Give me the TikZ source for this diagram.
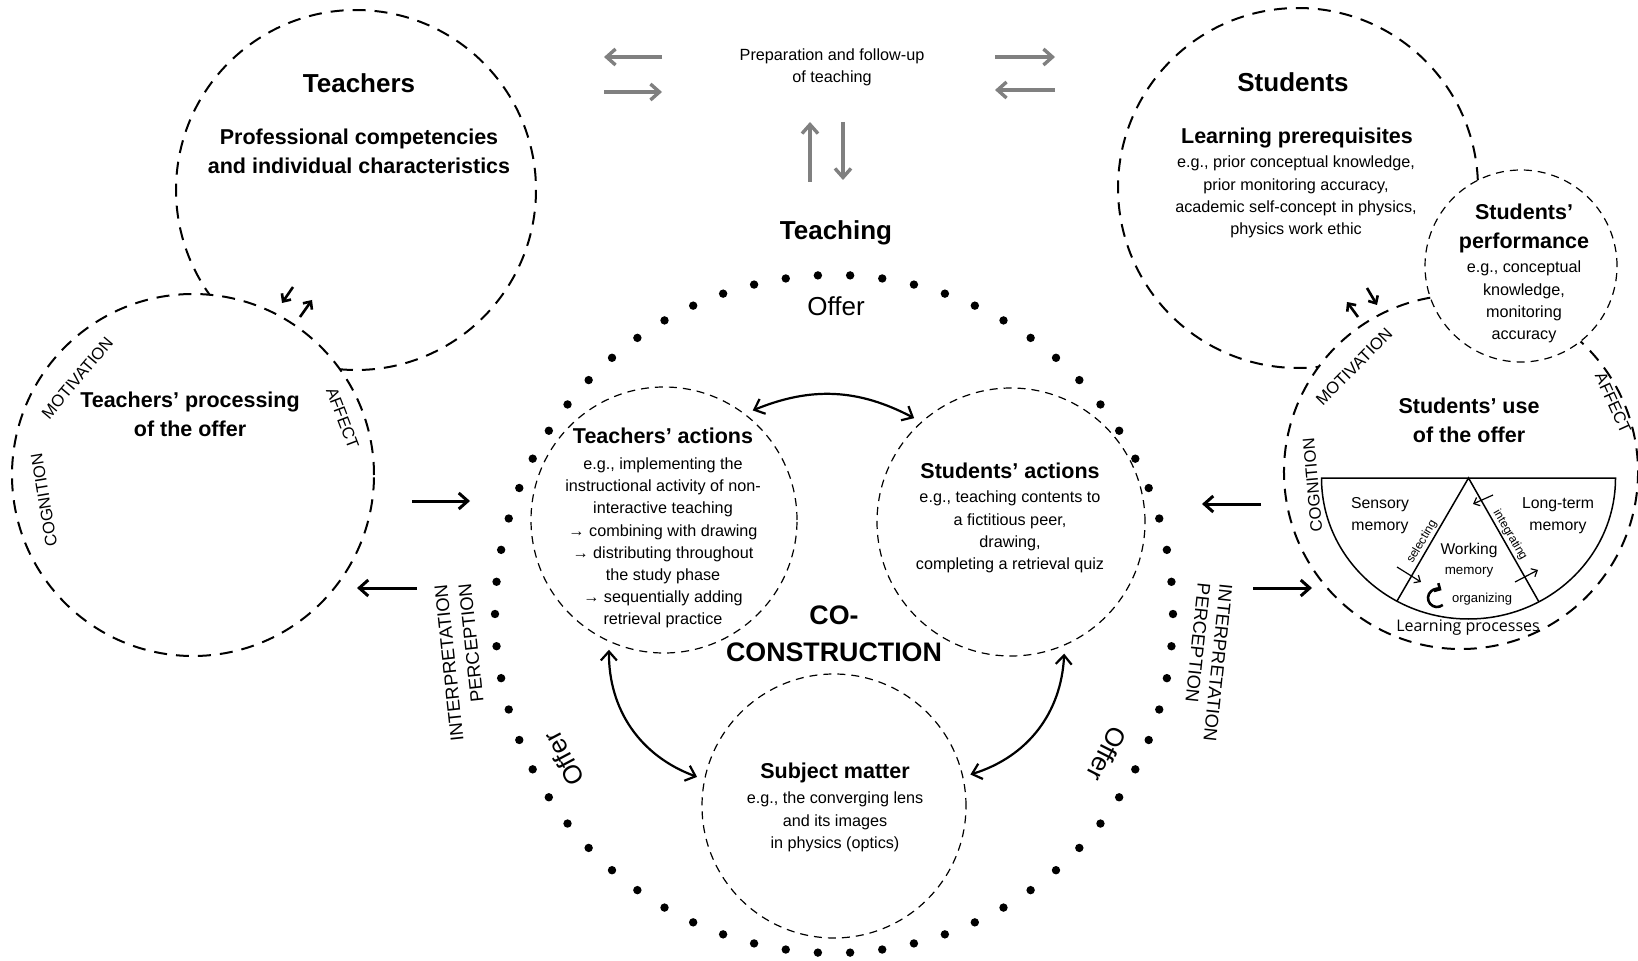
\documentclass[tikz,border=0pt]{standalone}
\usepackage{fontspec}
\setmainfont{Liberation Sans}
\newfontfamily\procfont{Open Sans}
\usetikzlibrary{arrows.meta}
\newcommand{\sz}[2]{\fontsize{#1}{#2}\selectfont}
\begin{document}
\begin{tikzpicture}[x=0.5pt, y=0.5pt,
  bigdash/.style={line width=1pt, dash pattern=on 6.5pt off 4.5pt},
  finedash/.style={line width=0.6pt, dash pattern=on 4pt off 3pt},
  actcircle/.style={circle, draw, finedash, minimum size=133pt, inner sep=0pt, outer sep=4pt},
  headline/.style={font=\bfseries\sz{13}{16}, inner sep=0pt},
  subhead/.style={font=\bfseries\sz{10.75}{14.5}, align=center, inner sep=0pt},
  bodytext/.style={font=\sz{8.1}{11.1}, align=center, inner sep=0pt},
  circlelabel/.style={font=\sz{8.3}{10}, inner sep=0pt},
  sidelabel/.style={font=\sz{9.2}{11}, inner sep=0pt},
  offerlabel/.style={font=\sz{13}{15}, inner sep=0pt},
  memtext/.style={font=\sz{7.9}{11}, align=center, inner sep=0pt},
  flowarrow/.style={line width=1.5pt, -{Straight Barb[length=4.5pt, width=8pt]}},
  grayarrow/.style={line width=1.7pt, draw=black!50, -{Straight Barb[length=4.5pt, width=8pt]}},
  linkarrow/.style={line width=1.1pt, {Straight Barb[length=4.5pt, width=8pt]}-{Straight Barb[length=4.5pt, width=8pt]}},
  tinyarrow/.style={line width=1.3pt, -{Straight Barb[length=3pt, width=5.5pt]}},
  memarrow/.style={line width=0.6pt, -{Straight Barb[length=2.5pt, width=4.5pt]}},
]
\fill[white] (0,0) rectangle (1638,960);
\useasboundingbox (0,0) rectangle (1638,960);

% centres of the large circles
\coordinate (tc) at (356,770);
\coordinate (pc) at (193,485);
\coordinate (sc) at (1298,772);
\coordinate (pf) at (1521,694);
\coordinate (uc) at (1461,488);
\coordinate (dc) at (834,346);

% Teachers and their processing of the offer
\draw[bigdash] ([shift={(264.9:90pt)}]tc) arc[start angle=264.9, end angle=575.6, radius=90pt];
\draw[bigdash] (pc) circle[radius=90.5pt];

% Students, their performance and their use of the offer
\draw[bigdash] ([shift={(2.5:90pt)}]sc) arc[start angle=2.5, end angle=276.6, radius=90pt];
\draw[bigdash] ([shift={(100:88.5pt)}]uc) arc[start angle=100, end angle=407.5, radius=88.5pt];
\draw[finedash] (pf) circle[radius=48pt];

% dotted ring of the teaching offer
\foreach \k in {0,...,65}
  \fill ([shift={({92.727+\k*5.4545}:169.5pt)}]dc) circle[radius=2.1pt];

% inner circles of the co-construction
\node[actcircle] (ta) at (664,440) {};
\node[actcircle, minimum size=134pt] (sa) at (1011,438) {};
\node[actcircle, minimum size=132pt] (sm) at (834,154) {};

\draw[linkarrow] (ta.51) to[bend left=25] (sa.133);
\draw[linkarrow] (ta.247) to[bend right=35] (sm.168);
\draw[linkarrow] (sa.292) to[bend left=35] (sm.13);

% titles and texts
\node[headline] (teachers) at (359,877) {Teachers};
\node[subhead] (profcomp) at (359,808.5) {Professional competencies\\and individual characteristics};
\node[subhead] (tproc) at (190,546) {Teachers’ processing\\of the offer};

\node[headline] (students) at (1293,878) {Students};
\node[subhead] (lpre) at (1297,822) {Learning prerequisites};
\node[bodytext] (lpretext) at (1296,763) {e.g., prior conceptual knowledge,\\prior monitoring accuracy,\\academic self-concept in physics,\\physics work ethic};
\node[subhead] (sperf) at (1524,731.5) {Students’\\performance};
\node[bodytext] (sperftext) at (1524,658) {e.g., conceptual\\knowledge,\\monitoring\\accuracy};
\node[subhead] (suse) at (1469,539.5) {Students’ use\\of the offer};

\node[bodytext, font=\sz{8.1}{11}] (prep) at (832,893) {Preparation and follow-up\\of teaching};
\node[headline] (teaching) at (836,727) {Teaching};
\node[offerlabel] (offertop) at (836,654) {Offer};
\node[offerlabel, rotate=118] (offerleft) at (564,201) {Offer};
\node[offerlabel, rotate=-117] (offerright) at (1107,206) {Offer};

\node[subhead] (tacttitle) at (663,524) {Teachers’ actions};
\node[bodytext] (tacttext) at (663,417) {e.g., implementing the\\instructional activity of non-\\interactive teaching\\→ combining with drawing\\→ distributing throughout\\the study phase\\→ sequentially adding\\retrieval practice};
\node[subhead] (sacttitle) at (1010,489) {Students’ actions};
\node[bodytext] (sacttext) at (1010,428) {e.g., teaching contents to\\a fictitious peer,\\drawing,\\completing a retrieval quiz};
\node[subhead, font=\bfseries\sz{13.4}{18.5}] (cocon) at (834,326.5) {CO-\\CONSTRUCTION};
\node[subhead] (smtitle) at (835,187) {Subject matter};
\node[bodytext] (smtext) at (835,138) {e.g., the converging lens\\and its images\\in physics (optics)};

% labels around the processing circles
\node[circlelabel, rotate=50] (tmot) at ([shift={(140:75.5pt)}]pc) {MOTIVATION};
\node[circlelabel, rotate=99.5] (tcog) at ([shift={(189.5:75.5pt)}]pc) {COGNITION};
\node[circlelabel, rotate=-69.2] (taff) at ([shift={(20.8:80pt)}]pc) {AFFECT};
\node[circlelabel, rotate=45.5] (smot) at ([shift={(135.5:75pt)}]uc) {MOTIVATION};
\node[circlelabel, rotate=95] (scog) at ([shift={(185:74.5pt)}]uc) {COGNITION};
\node[circlelabel, rotate=-65.6] (saff) at ([shift={(24.4:83.5pt)}]uc) {AFFECT};

\node[sidelabel, rotate=96] (linterp) at (449,297) {INTERPRETATION};
\node[sidelabel, rotate=96] (lperc) at (471,317) {PERCEPTION};
\node[sidelabel, rotate=-96] (rinterp) at (1218,297) {INTERPRETATION};
\node[sidelabel, rotate=-96] (rperc) at (1198,317) {PERCEPTION};

% arrows between the circles
\coordinate (a1s) at (412,459); \coordinate (a1e) at (470,459);
\coordinate (a2s) at (417,372); \coordinate (a2e) at (357,372);
\coordinate (a3s) at (1261,456); \coordinate (a3e) at (1202,456);
\coordinate (a4s) at (1253,372); \coordinate (a4e) at (1312,372);
\draw[flowarrow] (a1s) -- (a1e);
\draw[flowarrow] (a2s) -- (a2e);
\draw[flowarrow] (a3s) -- (a3e);
\draw[flowarrow] (a4s) -- (a4e);

% preparation and follow-up arrows
\coordinate (g1s) at (662,903); \coordinate (g1e) at (604,903);
\coordinate (g2s) at (604,868); \coordinate (g2e) at (662,868);
\coordinate (g3s) at (995,903); \coordinate (g3e) at (1055,903);
\coordinate (g4s) at (1055,870); \coordinate (g4e) at (995,870);
\coordinate (g5s) at (810,778); \coordinate (g5e) at (810,838);
\coordinate (g6s) at (843,838); \coordinate (g6e) at (843,780);
\foreach \a in {1,...,6} \draw[grayarrow] (g\a s) -- (g\a e);

% small exchange arrows where the circles meet
\coordinate (t1s) at (293,673); \coordinate (t1e) at (282,657);
\coordinate (t2s) at (300,643); \coordinate (t2e) at (312,660);
\coordinate (s1s) at (1358,643); \coordinate (s1e) at (1347,658);
\coordinate (s2s) at (1367,672); \coordinate (s2e) at (1377,655);
\draw[tinyarrow] (t1s) -- (t1e);
\draw[tinyarrow] (t2s) -- (t2e);
\draw[tinyarrow] (s1s) -- (s1e);
\draw[tinyarrow] (s2s) -- (s2e);

% learning processes
\coordinate (lp) at (1468.5,482);
\coordinate (lpl) at (1321.5,482);
\coordinate (lpr) at (1615.5,482);
\coordinate (lf) at (1397,359);
\coordinate (rf) at (1539,358);
\draw[line width=0.75pt] (lpl) -- (lpr) arc[start angle=0, end angle=-180, x radius=73.5pt, y radius=70.5pt] -- cycle;
\draw[line width=0.75pt] (lf) -- (lp) -- (rf);

\node[memtext] (sensory) at (1380,444) {Sensory\\memory};
\node[memtext] (longterm) at (1558,444) {Long-term\\memory};
\node[memtext, font=\sz{7.8}{10}] (working) at (1469,410) {Working};
\node[memtext, font=\sz{6.7}{8}] (workmem) at (1469,388) {memory};
\node[memtext, font=\sz{6.5}{8}] (organizing) at (1482,361) {organizing};
\node[memtext, font=\sz{6}{7}, rotate=59.4] (selecting) at (1422,418) {selecting};
\node[memtext, font=\sz{6}{7}, rotate=-59.6] (integrating) at (1510,425) {integrating};
\node[font=\procfont\sz{8}{10}, inner sep=0pt] (lproc) at (1468,332) {Learning processes};

\coordinate (orgc) at (1437,362);
\draw[line width=1.3pt, -{Straight Barb[length=2.2pt, width=4.5pt]}] ([shift={(-50:4.5pt)}]orgc) arc[start angle=-50, end angle=-300, radius=4.5pt];

\coordinate (m1s) at (1397,393); \coordinate (m1e) at (1421,378);
\coordinate (m2s) at (1515,378); \coordinate (m2e) at (1538,390);
\coordinate (m3s) at (1493,465); \coordinate (m3e) at (1473,456);
\draw[memarrow] (m1s) -- (m1e);
\draw[memarrow] (m2s) -- (m2e);
\draw[memarrow] (m3s) -- (m3e);
\end{tikzpicture}
\end{document}
